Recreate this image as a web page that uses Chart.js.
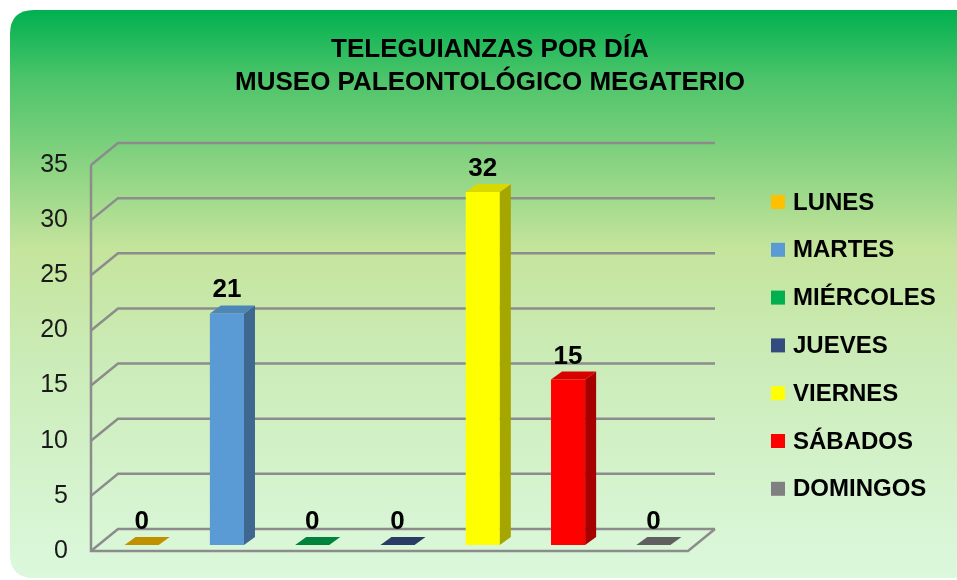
<!DOCTYPE html>
<html><head><meta charset="utf-8">
<script src="https://cdn.jsdelivr.net/npm/chart.js@4/dist/chart.umd.min.js"></script>
<style>html,body{margin:0;padding:0;background:#fff;}canvas{display:block;}</style>
</head><body>
<canvas id="c" width="957" height="580"></canvas>
<script>
const titleLines = ['TELEGUIANZAS POR DÍA', 'MUSEO PALEONTOLÓGICO MEGATERIO'];
const categories = ['LUNES', 'MARTES', 'MIÉRCOLES', 'JUEVES', 'VIERNES', 'SÁBADOS', 'DOMINGOS'];
const values = [0, 21, 0, 0, 32, 15, 0];
const yMin = 0, yMax = 35, yStep = 5;

const frontColors = ['#FFC000', '#5B9BD5', '#00B050', '#344B7D', '#FFFF00', '#FF0000', '#808080'];
const sideColors  = ['#A67C00', '#3E6890', '#007A38', '#223256', '#A6A600', '#A60000', '#555555'];
const topColors   = ['#C09000', '#4F86B8', '#00843C', '#2A3B66', '#D9D900', '#D90000', '#606060'];

const FONT = '"Liberation Sans", Arial, sans-serif';
const DEPTH = {dx: 27, dy: -22};   // back wall offset
const BAR_SHIFT = {dx: 8, dy: -6}; // bars sit inside the floor
const BAR_DEPTH = {dx: 11, dy: -8};

const bgPlugin = {
  id: 'bg',
  beforeDraw(chart) {
    const ctx = chart.ctx;
    ctx.save();
    ctx.fillStyle = '#ffffff';
    ctx.fillRect(0, 0, chart.width, chart.height);
    const g = ctx.createLinearGradient(0, 10, 0, 578);
    g.addColorStop(0, '#00B050');
    g.addColorStop(0.12, '#4CC46A');
    g.addColorStop(0.25, '#80D17E');
    g.addColorStop(0.42, '#C5E49C');
    g.addColorStop(0.62, '#CBECB8');
    g.addColorStop(1, '#DCF8DD');
    ctx.fillStyle = g;
    const x = 10, y = 10, w = 980, h = 568, r = 24;
    ctx.beginPath();
    ctx.moveTo(x + r, y);
    ctx.lineTo(x + w, y);
    ctx.lineTo(x + w, y + h);
    ctx.lineTo(x + r, y + h);
    ctx.quadraticCurveTo(x, y + h, x, y + h - r);
    ctx.lineTo(x, y + r);
    ctx.quadraticCurveTo(x, y, x + r, y);
    ctx.closePath();
    ctx.fill();
    ctx.fillStyle = '#000';
    ctx.font = 'bold 26px ' + FONT;
    ctx.textAlign = 'center';
    ctx.textBaseline = 'middle';
    titleLines.forEach((t, i) => ctx.fillText(t, 490, 50 + i * 33));
    ctx.restore();
  },
  beforeDatasetsDraw(chart) {
    const ctx = chart.ctx;
    const ys = chart.scales.y;
    const a = chart.chartArea;
    ctx.save();
    ctx.strokeStyle = '#8C8C8C';
    ctx.lineWidth = 2.5;
    ctx.lineJoin = 'miter';
    for (let v = yMin; v <= yMax; v += yStep) {
      const y = ys.getPixelForValue(v);
      ctx.beginPath();
      ctx.moveTo(a.left, y);
      ctx.lineTo(a.left + DEPTH.dx, y + DEPTH.dy);
      ctx.lineTo(a.right + DEPTH.dx, y + DEPTH.dy);
      ctx.stroke();
    }
    const y0 = ys.getPixelForValue(yMin);
    const yT = ys.getPixelForValue(yMax);
    ctx.beginPath();
    ctx.moveTo(a.left, yT);
    ctx.lineTo(a.left, y0);
    ctx.lineTo(a.right, y0);
    ctx.lineTo(a.right + DEPTH.dx, y0 + DEPTH.dy);
    ctx.stroke();
    ctx.restore();
    ctx.save();
    ctx.translate(BAR_SHIFT.dx, BAR_SHIFT.dy);
  },
  afterDatasetsDraw(chart) {
    const ctx = chart.ctx;
    const meta = chart.getDatasetMeta(0);
    meta.data.forEach((bar, i) => {
      const p = bar.getProps(['x', 'y', 'base', 'width'], true);
      const x0 = p.x - p.width / 2, x1 = p.x + p.width / 2;
      const yt = Math.min(p.y, p.base), yb = p.base;
      if (yb - yt > 0.5) {
        ctx.fillStyle = sideColors[i];
        ctx.beginPath();
        ctx.moveTo(x1, yb);
        ctx.lineTo(x1 + BAR_DEPTH.dx, yb + BAR_DEPTH.dy);
        ctx.lineTo(x1 + BAR_DEPTH.dx, yt + BAR_DEPTH.dy);
        ctx.lineTo(x1, yt);
        ctx.closePath();
        ctx.fill();
      }
      ctx.fillStyle = topColors[i];
      ctx.beginPath();
      ctx.moveTo(x0, yt);
      ctx.lineTo(x1, yt);
      ctx.lineTo(x1 + BAR_DEPTH.dx, yt + BAR_DEPTH.dy);
      ctx.lineTo(x0 + BAR_DEPTH.dx, yt + BAR_DEPTH.dy);
      ctx.closePath();
      ctx.fill();
      ctx.fillStyle = '#000';
      ctx.font = 'bold 26px ' + FONT;
      ctx.textAlign = 'center';
      ctx.textBaseline = 'alphabetic';
      ctx.fillText(String(values[i]), p.x, yt - 16);
    });
    ctx.restore();
  },
  afterDraw(chart) {
    const ctx = chart.ctx;
    ctx.save();
    ctx.font = 'bold 24px ' + FONT;
    ctx.textAlign = 'left';
    ctx.textBaseline = 'middle';
    categories.forEach((c, i) => {
      const cy = 202 + i * 47.8;
      ctx.fillStyle = frontColors[i];
      ctx.fillRect(771, cy - 7, 14, 14);
      ctx.fillStyle = '#000';
      ctx.fillText(c, 793, cy + 1);
    });
    ctx.restore();
  }
};

new Chart(document.getElementById('c'), {
  type: 'bar',
  data: {
    labels: categories,
    datasets: [{
      data: values,
      backgroundColor: frontColors,
      borderWidth: 0,
      barPercentage: 0.5,
      categoryPercentage: 0.8
    }]
  },
  options: {
    responsive: false,
    devicePixelRatio: 1,
    animation: false,
    layout: {padding: {left: 0, top: 165, right: 269, bottom: 29}},
    plugins: {legend: {display: false}, title: {display: false}, tooltip: {enabled: false}},
    scales: {
      x: {display: false},
      y: {
        min: yMin, max: yMax,
        ticks: {stepSize: yStep, color: '#1a1a1a', font: {family: FONT, size: 25}, padding: 23},
        grid: {display: false, drawTicks: false},
        border: {display: false},
        afterFit(scale) { scale.width = 91; scale.paddingTop = 0; scale.paddingBottom = 0; }
      }
    }
  },
  plugins: [bgPlugin]
});
</script>
</body></html>
